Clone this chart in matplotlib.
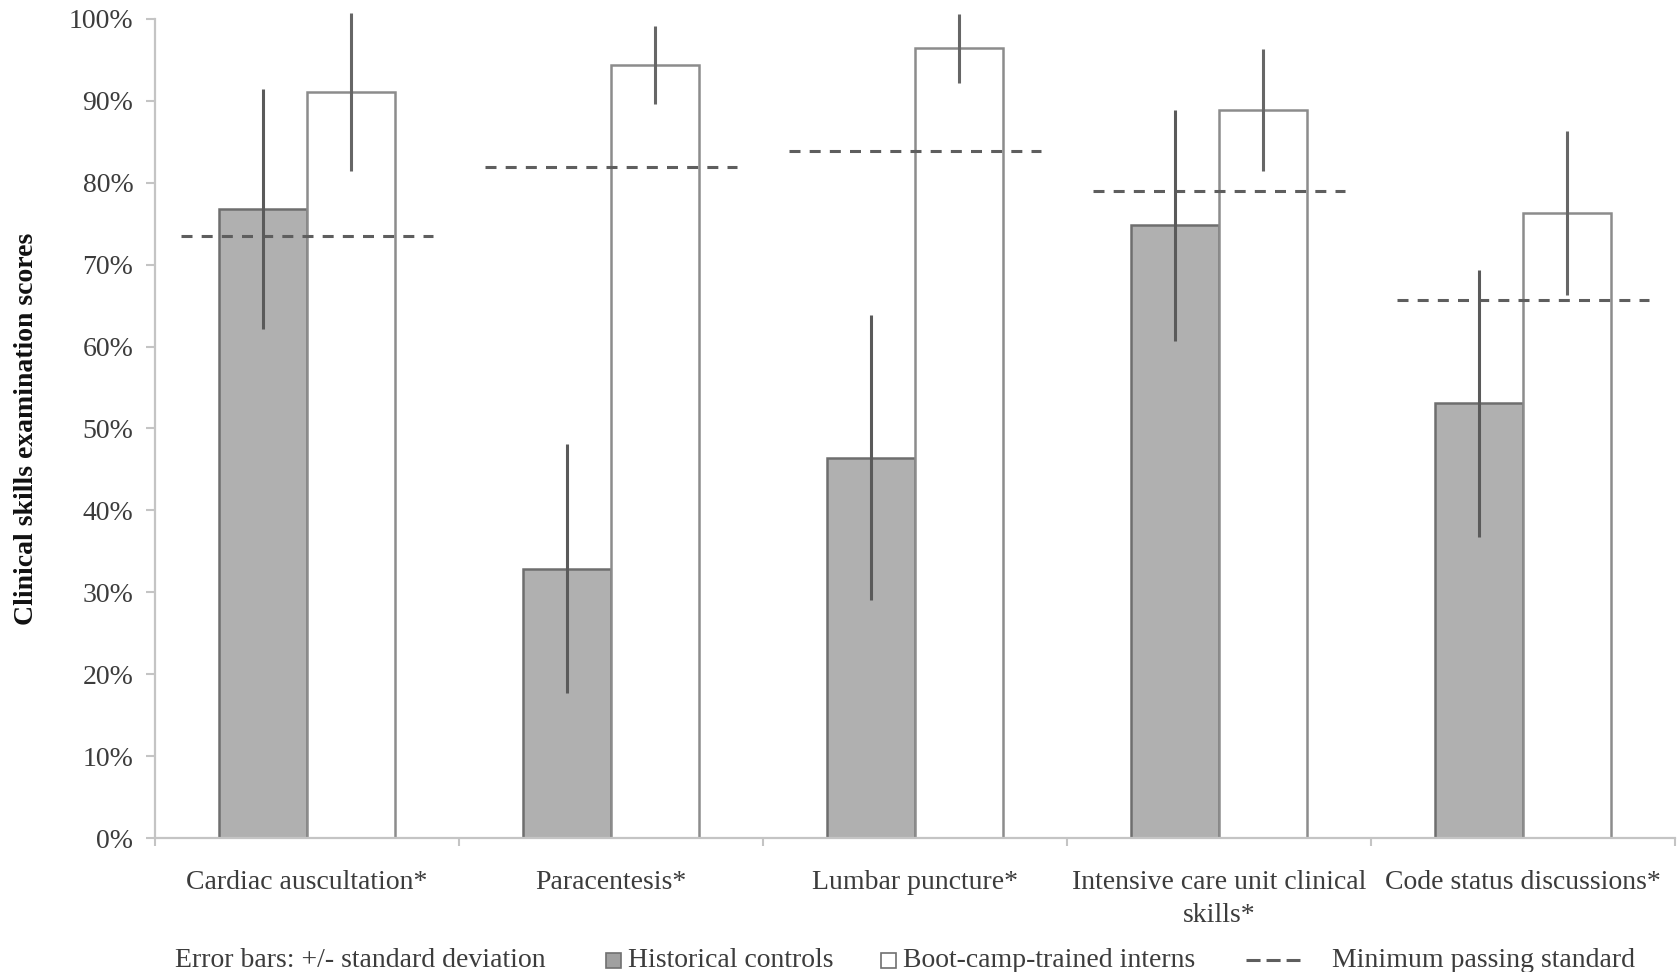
import matplotlib
matplotlib.use("Agg")
import matplotlib.pyplot as plt
import numpy as np
from matplotlib.ticker import PercentFormatter, FixedLocator
from matplotlib.patches import Rectangle
from matplotlib.lines import Line2D

# ---- data ----
categories = ["Cardiac auscultation*", "Paracentesis*", "Lumbar puncture*",
              "Intensive care unit clinical\nskills*", "Code status discussions*"]
historical = [76.8, 32.9, 46.4, 74.8, 53.1]
historical_sd = [14.7, 15.2, 17.4, 14.1, 16.3]
bootcamp = [91.1, 94.4, 96.4, 88.9, 76.3]
bootcamp_sd = [9.6, 4.8, 4.2, 7.4, 10.0]
passing = [73.5, 81.9, 83.9, 79.0, 65.7]
yticks = list(range(0, 101, 10))

plt.rcParams['font.family'] = ['Liberation Serif', 'DejaVu Serif']

W, H = 1680, 972
fig = plt.figure(figsize=(W / 100, H / 100), dpi=100)
ax = fig.add_axes([155 / W, 1 - 838 / H, (1675 - 155) / W, (838 - 19) / H])

x = np.arange(len(categories))
bw = 0.29
txt_col = '#3c3c3c'

ax.bar(x - bw / 2, historical, width=bw, color='#b0b0b0', edgecolor='#6e6e6e',
       linewidth=1.8, zorder=2)
ax.bar(x + bw / 2, bootcamp, width=bw, color='white', edgecolor='#8c8c8c',
       linewidth=1.8, zorder=2)

ax.errorbar(x - bw / 2, historical, yerr=historical_sd, fmt='none',
            ecolor='#5a5a5a', elinewidth=2.2, capsize=0, zorder=4, clip_on=False)
ax.errorbar(x + bw / 2, bootcamp, yerr=bootcamp_sd, fmt='none',
            ecolor='#666666', elinewidth=2.2, capsize=0, zorder=4, clip_on=False)

for xi, p in zip(x, passing):
    ax.plot([xi - 0.415, xi + 0.415], [p, p], color='#5e5e5e', lw=2.2,
            ls=(0, (3.6, 3.0)), zorder=3)

ax.set_xlim(-0.5, len(categories) - 0.5)
ax.set_ylim(0, 100)
ax.set_yticks(yticks)
ax.yaxis.set_major_formatter(PercentFormatter(decimals=0))

ax.set_xticks(x)
ax.set_xticklabels(categories, fontsize=20, color=txt_col, linespacing=1.4)
ax.xaxis.set_minor_locator(FixedLocator(np.arange(-0.5, len(categories), 1.0)))
ax.tick_params(axis='x', which='major', length=0, pad=23)
ax.tick_params(axis='x', which='minor', length=6, width=1.5, color='#c4c4c4', direction='out')
ax.tick_params(axis='y', length=6.5, width=1.5, color='#c4c4c4', pad=9,
               labelsize=20, labelcolor=txt_col)

for s in ['top', 'right']:
    ax.spines[s].set_visible(False)
for s in ['left', 'bottom']:
    ax.spines[s].set_color('#c4c4c4')
    ax.spines[s].set_linewidth(1.6)
ax.spines['bottom'].set_zorder(5)

fig.text(27 / W, 1 - 428.5 / H, "Clinical skills examination scores", rotation=90,
         ha='center', va='center', fontsize=20, fontweight='bold', color='#111111')

# ---- legend row ----
ly = 1 - 960 / H
fig.text(175 / W, ly, "Error bars: +/- standard deviation", ha='left', va='center',
         fontsize=20, color=txt_col)
sq = 15
fig.patches.append(Rectangle(((613 - sq / 2) / W, ly - sq / 2 / H), sq / W, sq / H,
                             transform=fig.transFigure, facecolor='#a0a0a0',
                             edgecolor='#707070', lw=1.2))
fig.text(628 / W, ly, "Historical controls", ha='left', va='center', fontsize=20, color=txt_col)
fig.patches.append(Rectangle(((888 - sq / 2) / W, ly - sq / 2 / H), sq / W, sq / H,
                             transform=fig.transFigure, facecolor='white',
                             edgecolor='#707070', lw=1.2))
fig.text(903 / W, ly, "Boot-camp-trained interns", ha='left', va='center', fontsize=20, color=txt_col)
fig.lines.append(Line2D([1246 / W, 1300 / W], [ly, ly], transform=fig.transFigure,
                        color='#5e5e5e', lw=2.2, ls=(0, (4.6, 1.96))))
fig.text(1332 / W, ly, "Minimum passing standard", ha='left', va='center', fontsize=20, color=txt_col)

fig.savefig("out.png", dpi=100)
